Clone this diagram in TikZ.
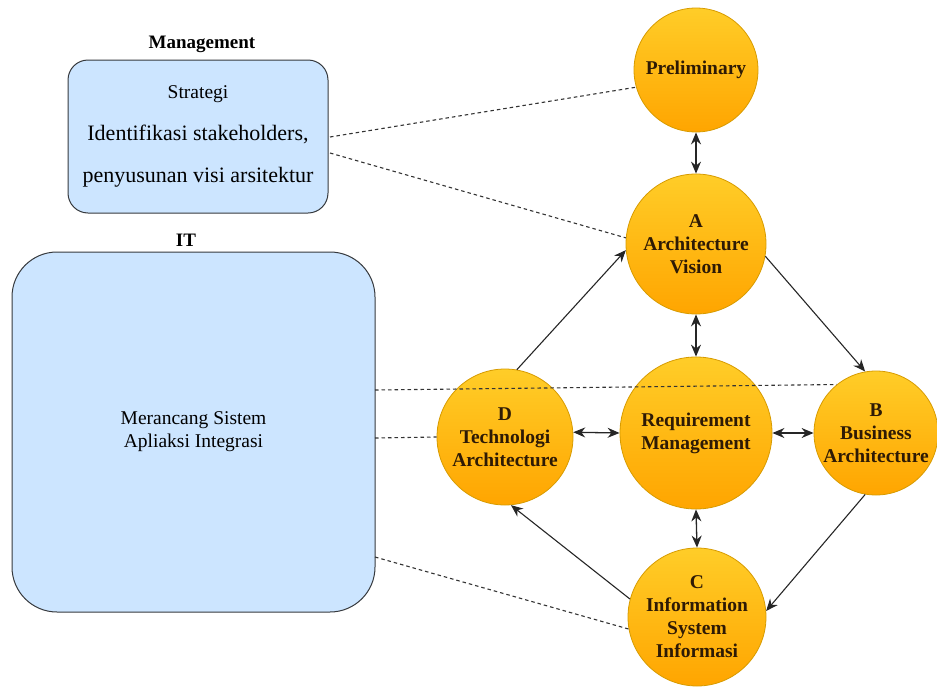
\documentclass[tikz,border=0pt]{standalone}
\usepackage{fontspec}
\setmainfont{Liberation Serif}
\usetikzlibrary{arrows.meta}
\definecolor{phasetop}{HTML}{FFCD28}
\definecolor{phasebot}{HTML}{FFA500}
\definecolor{phaseline}{HTML}{D79B00}
\definecolor{phasetext}{HTML}{2E1A05}
\definecolor{boxfill}{HTML}{CCE5FF}
\definecolor{boxline}{HTML}{36393D}
\tikzset{
  phase/.style={circle, draw=phaseline, line width=0.8pt, top color=phasetop, bottom color=phasebot,
    align=center, text=phasetext, font=\fontsize{19.5}{23}\selectfont\bfseries, inner sep=0pt},
  area/.style={draw=boxline, line width=1pt, fill=boxfill, align=center},
  title/.style={font=\fontsize{19}{22}\selectfont\bfseries, text=black},
  flow/.style={line width=1.1pt, -{Stealth[length=12pt,width=10pt]}, black!85},
  both/.style={line width=1.3pt, {Stealth[length=12pt,width=10pt]}-{Stealth[length=12pt,width=10pt]}, black!85},
  link/.style={line width=1.1pt, dash pattern=on 3.5pt off 3pt, black!80},
}
\begin{document}
\begin{tikzpicture}[x=1pt, y=-1pt]
\useasboundingbox (0,0) rectangle (937,691);

% left-hand areas
\node[area, rounded corners=20pt, minimum width=260pt, minimum height=153pt,
      font=\fontsize{22}{42}\selectfont] (mgmt) at (198,136.5)
  {{\fontsize{19.5}{22}\selectfont Strategi}\\Identifikasi stakeholders,\\penyusunan visi arsitektur};
\node[title] (mgmttitle) at (202,44) {Management};

\node[area, rounded corners=45pt, minimum width=363pt, minimum height=360pt,
      font=\fontsize{19.5}{23}\selectfont] (it) at (193.5,432)
  {Merancang Sistem\\Apliaksi Integrasi};
\node[title] (ittitle) at (186,240) {IT};

% phases
\node[phase, minimum size=124pt] (prelim) at (696,70) {Preliminary};
\node[phase, minimum size=140pt] (a) at (696,244) {A\\Architecture\\Vision};
\node[phase, minimum size=152pt] (req) at (696,433) {Requirement\\Management};
\node[phase, minimum size=136pt] (d) at (505,437) {D\\Technologi\\Architecture};
\node[phase, minimum size=124pt] (b) at (876,433) {B\\Business\\Architecture};
\node[phase, minimum size=138pt] (c) at (697,617) {C\\Information\\System\\Informasi};

% links from the areas to the phases
\coordinate (m1) at (330,137);
\coordinate (m2) at (330,153);
\coordinate (i1) at (375,390);
\coordinate (i2) at (375,438);
\coordinate (i3) at (375,557);
\draw[link] (m1) -- (prelim.196);
\draw[link] (m2) -- (a.175);
\draw[link] (i1) -- (b.129);
\draw[link] (i2) -- (d.west);
\draw[link] (i3) -- (c.190);

% two-way links around the centre
\draw[both] (prelim.south) -- (a.north);
\draw[both] (a.south) -- (req.north);
\draw[both] (req.south) -- (c.north);
\draw[both] (d.4) -- (req.west);
\draw[both] (req.east) -- (b.west);

% cycle A -> B -> C -> D -> A
\draw[flow] (d.80) -- (a.185);
\draw[flow] (a.350) -- (b.100);
\draw[flow] (b.260) -- (c.5);
\draw[flow] (c.165) -- (d.275);
\end{tikzpicture}
\end{document}
